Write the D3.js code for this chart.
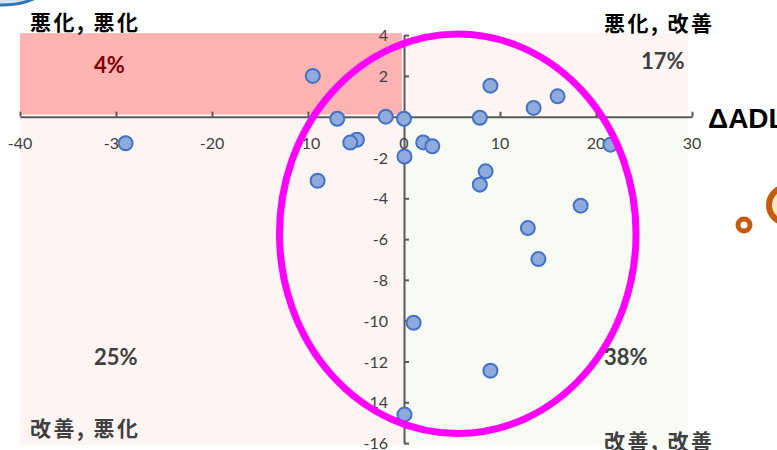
<!DOCTYPE html>
<html><head><meta charset="utf-8">
<script src="https://cdn.jsdelivr.net/npm/d3@7"></script>
<style>body{margin:0;background:#fff}svg{display:block}</style>
</head><body>
<svg id="c" width="777" height="450"></svg>
<script>
// ---- data ----
const pointsX = [-29, -9.5, -6.95, -4.9, -5.6, -1.9, 0, 7.9, 9.0, 13.5, 16.0, 21.5, 2.0, 2.95, 0.05, 8.5, 7.9, 18.4, 12.9, 14.0, 1.0, 9.0, 0.05, -9.0];
const pointsY = [-1.3, 2.0, -0.1, -1.13, -1.27, 0.0, -0.1, -0.05, 1.52, 0.43, 1.0, -1.37, -1.26, -1.45, -1.95, -2.68, -3.33, -4.36, -5.46, -6.98, -10.1, -12.45, -14.6, -3.14];
const xTicks = [-40, -30, -20, -10, 0, 10, 20, 30];
const yTicks = [4, 2, 0, -2, -4, -6, -8, -10, -12, -14, -16];
const quadrantLabels = ["悪化, 悪化", "悪化, 改善", "改善, 悪化", "改善, 改善"];
const quadrantPercents = ["4%", "17%", "25%", "38%"];
const axisTitle = "ΔADL";
// highlight ellipse (data units): center x, center y, radius x, radius y
const ellipseSpec = [5.6, -5.74, 18.57, 9.79];

const svg = d3.select("#c");
const xs = d3.scaleLinear().domain([-40, 30]).range([20, 692]);
const ys = d3.scaleLinear().domain([4, -16]).range([35.1, 443.1]);

// decorative shapes outside the chart
svg.append("ellipse").attr("cx", 2).attr("cy", -22).attr("rx", 50).attr("ry", 27)
  .attr("fill", "#dae3f3").attr("stroke", "#2e75b6").attr("stroke-width", 3);

// quadrant backgrounds
const g = svg.append("g");
g.append("rect").attr("x", xs(-40)).attr("y", ys(4) - 2).attr("width", xs(0) - xs(-40) - 2).attr("height", ys(0) - ys(4))
  .attr("fill", "#ffb3b3");
g.append("rect").attr("x", xs(0)).attr("y", ys(4) - 2).attr("width", xs(29.6) - xs(0)).attr("height", ys(0) - ys(4))
  .attr("fill", "#fff5f3");
g.append("rect").attr("x", xs(-40)).attr("y", ys(0)).attr("width", xs(0) - xs(-40)).attr("height", ys(-16.1) - ys(0))
  .attr("fill", "#fdf5f3");
g.append("rect").attr("x", xs(0)).attr("y", ys(0)).attr("width", xs(29.6) - xs(0)).attr("height", ys(-16.1) - ys(0))
  .attr("fill", "#f8faf4");

// axes
const axisColor = "#595959";
const xAxis = svg.append("g").attr("transform", `translate(0,${ys(0)})`)
  .call(d3.axisTop(xs).tickValues(xTicks).tickSize(5).tickSizeOuter(0).tickFormat(""));
const yAxis = svg.append("g").attr("transform", `translate(${xs(0)},0)`)
  .call(d3.axisRight(ys).tickValues(yTicks).tickSize(5).tickSizeOuter(0).tickFormat(""));
[xAxis, yAxis].forEach(a => {
  a.select(".domain").attr("stroke", axisColor).attr("stroke-width", 2);
  a.selectAll(".tick line").attr("stroke", axisColor).attr("stroke-width", 2);
});

const tickFont = "Lato, 'Liberation Sans', sans-serif";
svg.append("g").selectAll("text").data(xTicks).join("text")
  .attr("x", d => xs(d)).attr("y", ys(0) + 32)
  .attr("text-anchor", "middle").attr("font-family", tickFont).attr("font-size", 16)
  .attr("fill", "#404040").text(d => d);
svg.append("g").selectAll("text").data(yTicks).join("text")
  .attr("x", xs(0) - 16).attr("y", d => ys(d) + 6)
  .attr("text-anchor", "end").attr("font-family", tickFont).attr("font-size", 16)
  .attr("fill", "#404040").text(d => d);

// points
svg.append("g").selectAll("circle").data(pointsX.map((x, i) => [x, pointsY[i]])).join("circle")
  .attr("cx", d => xs(d[0])).attr("cy", d => ys(d[1])).attr("r", 7)
  .attr("fill", "#8faadc").attr("stroke", "#4472c4").attr("stroke-width", 2);

// highlight ellipse
svg.append("ellipse")
  .attr("cx", xs(ellipseSpec[0])).attr("cy", ys(ellipseSpec[1]))
  .attr("rx", xs(ellipseSpec[2]) - xs(0)).attr("ry", ys(-ellipseSpec[3]) - ys(0))
  .attr("fill", "none").attr("stroke", "#ff00ff").attr("stroke-width", 7);

// quadrant labels
const cjk = "'Noto Sans CJK JP', sans-serif";
const qlPos = [[30, 30, "#000"], [604, 31, "#000"], [30, 436, "#404040"], [604, 449, "#404040"]];
svg.append("g").selectAll("text").data(quadrantLabels).join("text")
  .attr("x", (d, i) => qlPos[i][0]).attr("y", (d, i) => qlPos[i][1])
  .attr("font-family", cjk).attr("font-weight", "bold").attr("font-size", 21)
  .attr("letter-spacing", 2.5)
  .attr("fill", (d, i) => qlPos[i][2]).text(d => d);

const pcPos = [[94, 73, "#7f0000"], [641, 69, "#404040"], [94, 365, "#404040"], [604, 365, "#404040"]];
svg.append("g").selectAll("text").data(quadrantPercents).join("text")
  .attr("x", (d, i) => pcPos[i][0]).attr("y", (d, i) => pcPos[i][1])
  .attr("font-family", "Lato, sans-serif").attr("font-weight", "bold").attr("font-size", 22)
  .attr("fill", (d, i) => pcPos[i][2]).text(d => d);

svg.append("text").attr("x", 708).attr("y", 128)
  .attr("font-family", "'Liberation Sans', Arial, sans-serif").attr("font-weight", "bold").attr("font-size", 28)
  .attr("fill", "#000").text(axisTitle);

// decorative orange circles at right edge
svg.append("circle").attr("cx", 744).attr("cy", 225).attr("r", 6)
  .attr("fill", "#fff").attr("stroke", "#c55a11").attr("stroke-width", 5);
svg.append("circle").attr("cx", 787).attr("cy", 205).attr("r", 18)
  .attr("fill", "#ffe6c0").attr("stroke", "#c55a11").attr("stroke-width", 6);
</script>
</body></html>
